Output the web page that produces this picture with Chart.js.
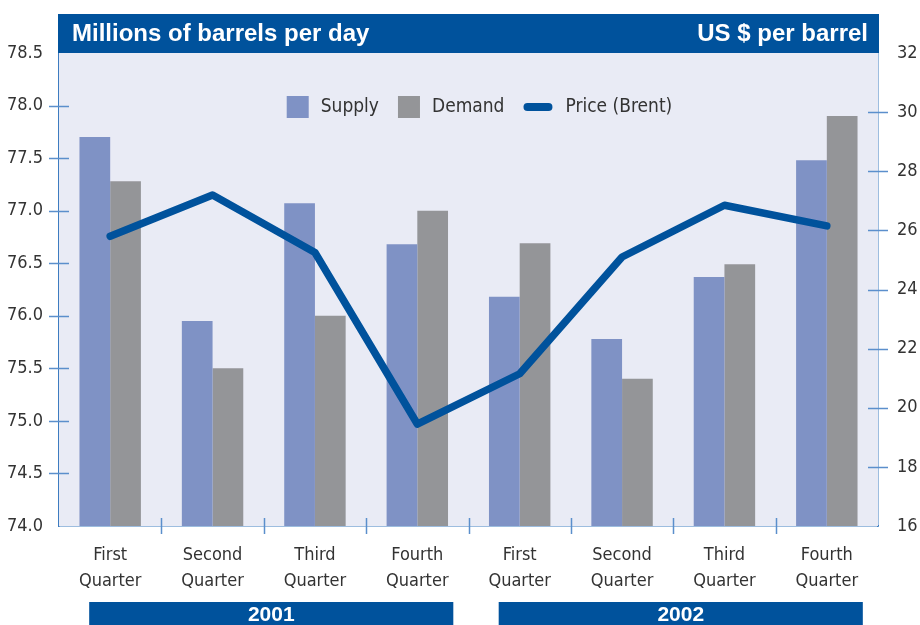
<!DOCTYPE html>
<html lang="en">
<head>
<meta charset="UTF-8" />
<title>Oil supply, demand and price</title>
<script src="https://cdn.jsdelivr.net/npm/chart.js"></script>
<style>
  html, body { margin: 0; padding: 0; background: #fff; }
  #wrap { width: 920px; height: 625px; position: relative; }
</style>
</head>
<body>
<div id="wrap"><canvas id="chart" width="920" height="625"></canvas></div>
<script>
// data
const quarters = [
  ['First', 'Quarter'], ['Second', 'Quarter'], ['Third', 'Quarter'], ['Fourth', 'Quarter'],
  ['First', 'Quarter'], ['Second', 'Quarter'], ['Third', 'Quarter'], ['Fourth', 'Quarter']
];
const years = ['2001', '2002'];
const supply = [77.7, 75.95, 77.07, 76.68, 76.18, 75.78, 76.37, 77.48];
const demand = [77.28, 75.5, 76.0, 77.0, 76.69, 75.4, 76.49, 77.9];
const price = [25.8, 27.2, 25.25, 19.45, 21.15, 25.1, 26.85, 26.15];
const leftTitle = 'Millions of barrels per day';
const rightTitle = 'US $ per barrel';

const BLUE = '#00529c';
const NARROW = '"Liberation Sans Narrow", "DejaVu Sans Condensed", "Roboto Condensed", sans-serif';
const BOLD = '"Liberation Sans", Arial, sans-serif';

// background, header, ticks, legend, year bands
const decor = {
  id: 'decor',
  beforeDatasetsDraw(chart) {
    const { ctx, chartArea: a } = chart;
    ctx.save();
    ctx.fillStyle = '#e9ebf5';
    ctx.fillRect(a.left, a.top, a.right - a.left, a.bottom - a.top);
    ctx.restore();
  },
  afterDraw(chart) {
    const { ctx, chartArea: a, scales } = chart;
    const x = scales.x, yl = scales.y, yr = scales.y1;
    ctx.save();

    // header band
    ctx.fillStyle = BLUE;
    ctx.fillRect(a.left - 1, 14, a.right - a.left + 2, a.top - 14);
    ctx.fillStyle = '#fff';
    ctx.font = 'bold 24px ' + BOLD;
    ctx.textBaseline = 'alphabetic';
    ctx.textAlign = 'left';
    ctx.fillText(leftTitle, a.left + 13, 41);
    ctx.textAlign = 'right';
    ctx.fillText(rightTitle, a.right - 10, 41);

    // tick marks crossing the axes
    ctx.strokeStyle = '#5b8fcc';
    ctx.lineWidth = 1.5;
    ctx.beginPath();
    yl.ticks.forEach((t, i) => {
      if (i === 0 || i === yl.ticks.length - 1) return;
      const py = Math.round(yl.getPixelForValue(t.value)) + 0.5;
      ctx.moveTo(a.left - 10, py); ctx.lineTo(a.left + 10, py);
    });
    yr.ticks.forEach((t, i) => {
      if (i === 0 || i === yr.ticks.length - 1) return;
      const py = Math.round(yr.getPixelForValue(t.value)) + 0.5;
      ctx.moveTo(a.right - 10, py); ctx.lineTo(a.right + 10, py);
    });
    for (let i = 1; i < quarters.length; i++) {
      const px = Math.round((x.getPixelForValue(i - 1) + x.getPixelForValue(i)) / 2) + 0.5;
      ctx.moveTo(px, a.bottom - 8); ctx.lineTo(px, a.bottom + 8);
    }
    ctx.stroke();

    // legend
    ctx.font = '19px ' + NARROW;
    ctx.textAlign = 'left';
    ctx.textBaseline = 'middle';
    const ds = chart.data.datasets;
    const items = [ds[1], ds[2], ds[0]];
    const ly = 107;
    const widths = items.map(d => (d.type === 'line' ? 29 : 22) + 12 + ctx.measureText(d.label).width);
    const total = widths.reduce((s, w) => s + w, 0) + 19 * (items.length - 1);
    let lx = 479 - total / 2;
    items.forEach((d, i) => {
      if (d.type === 'line') {
        ctx.strokeStyle = d.borderColor;
        ctx.lineWidth = 8;
        ctx.lineCap = 'round';
        ctx.beginPath();
        ctx.moveTo(lx + 4, ly); ctx.lineTo(lx + 25, ly);
        ctx.stroke();
        ctx.fillStyle = '#333';
        ctx.fillText(d.label, lx + 29 + 13, ly);
      } else {
        ctx.fillStyle = d.backgroundColor;
        ctx.fillRect(lx, ly - 11, 22, 22);
        ctx.fillStyle = '#333';
        ctx.fillText(d.label, lx + 22 + 12, ly);
      }
      lx += widths[i] + 19;
    });

    // year bands
    ctx.font = 'bold 21px ' + BOLD;
    ctx.textAlign = 'center';
    years.forEach((yr, i) => {
      const x0 = x.getPixelForValue(i * 4) - 21;
      const x1 = x.getPixelForValue(i * 4 + 3) + 36;
      ctx.fillStyle = BLUE;
      ctx.fillRect(x0, 602, x1 - x0, 30);
      ctx.fillStyle = '#fff';
      ctx.fillText(yr, (x0 + x1) / 2, 615);
    });
    ctx.restore();
  }
};

new Chart(document.getElementById('chart'), {
  data: {
    labels: quarters,
    datasets: [
      {
        type: 'line', label: 'Price (Brent)', data: price, yAxisID: 'y1',
        borderColor: BLUE, borderWidth: 7.5, pointRadius: 0, tension: 0,
        borderCapStyle: 'round', borderJoinStyle: 'round', order: 0
      },
      {
        type: 'bar', label: 'Supply', data: supply, yAxisID: 'y',
        backgroundColor: '#7f92c5', categoryPercentage: 0.6, barPercentage: 1.0, order: 1
      },
      {
        type: 'bar', label: 'Demand', data: demand, yAxisID: 'y',
        backgroundColor: '#949598', categoryPercentage: 0.6, barPercentage: 1.0, order: 1
      }
    ]
  },
  options: {
    responsive: false,
    animation: false,
    layout: { padding: { top: 53, left: 0, right: 0, bottom: 0 } },
    plugins: { legend: { display: false }, tooltip: { enabled: false } },
    scales: {
      x: {
        grid: { display: false, drawTicks: false, tickLength: 0 },
        border: { display: true, color: '#3d7cc0', width: 1.5 },
        ticks: { color: '#333', font: { family: NARROW, size: 18, lineHeight: 1.45 }, padding: 16, maxRotation: 0, autoSkip: false },
        afterFit(s) { s.height = 99; }
      },
      y: {
        position: 'left', min: 74, max: 78.5,
        grid: { display: false, drawTicks: false, tickLength: 0 },
        border: { display: true, color: '#3d7cc0', width: 1.5 },
        ticks: { stepSize: 0.5, color: '#333', font: { family: NARROW, size: 18 }, padding: 16, callback: v => v.toFixed(1) },
        afterFit(s) { s.width = 59; }
      },
      y1: {
        position: 'right', min: 16, max: 32,
        grid: { display: false, drawTicks: false, tickLength: 0 },
        border: { display: true, color: '#3d7cc0', width: 1.5 },
        ticks: { stepSize: 2, color: '#333', font: { family: NARROW, size: 18 }, padding: 19 },
        afterFit(s) { s.width = 42; }
      }
    }
  },
  plugins: [decor]
});
</script>
</body>
</html>
